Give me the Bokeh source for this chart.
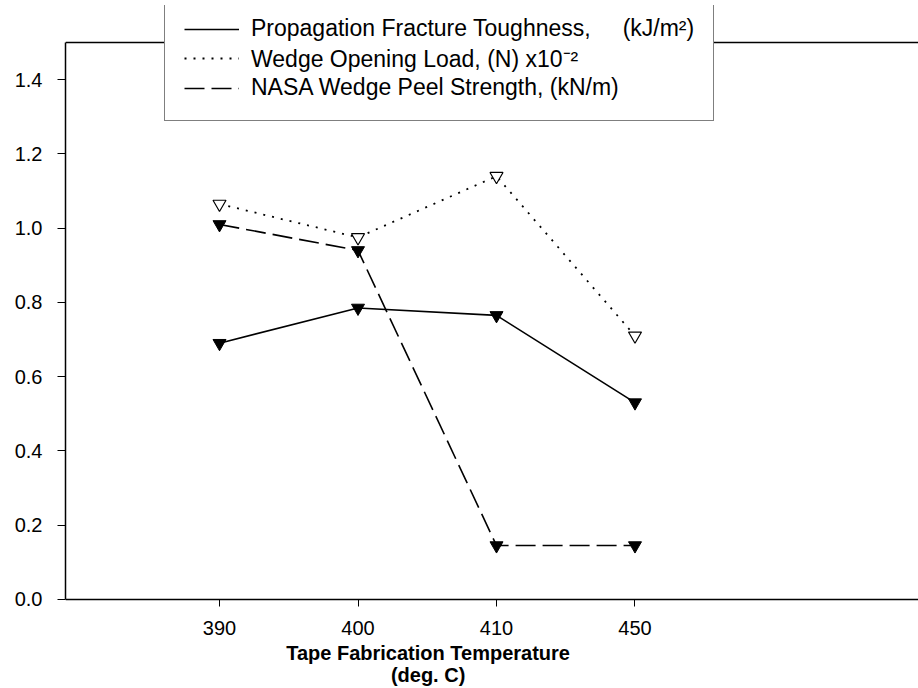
from bokeh.plotting import figure
from bokeh.models import (Range1d, FixedTicker, Legend, LegendItem, Span)
from bokeh.embed import file_html
from bokeh.resources import INLINE

# ---- data ----
categories = ["390", "400", "410", "450"]
propagation_toughness = [0.69, 0.785, 0.765, 0.53]      # kJ/m^2
wedge_opening_load = [1.065, 0.975, 1.14, 0.71]         # N x10^-2
nasa_peel_strength = [1.01, 0.94, 0.145, 0.145]         # kN/m
y_ticks = [0.0, 0.2, 0.4, 0.6, 0.8, 1.0, 1.2, 1.4]
x_title_1 = "Tape Fabrication Temperature"
x_title_2 = "(deg. C)"
legend_labels = ["Propagation Fracture Toughness,     (kJ/m\u00b2)",
                 "Wedge Opening Load, (N) x10\u207b\u00b2",
                 "NASA Wedge Peel Strength, (kN/m)"]

xs = list(range(len(categories)))
FONT = "Liberation Sans"

p = figure(width=918, height=688, output_backend="svg", toolbar_location=None,
           x_range=Range1d(-1.112, 5.047), y_range=Range1d(-0.2401, 1.5998),
           min_border_left=65, min_border_right=0, min_border_top=5,
           min_border_bottom=0)
p.outline_line_color = None
p.grid.visible = False
p.background_fill_color = "white"

# axes
for ax in (p.xaxis[0], p.yaxis[0]):
    ax.axis_line_color = "black"
    ax.axis_line_width = 1.5
    ax.major_tick_line_color = "black"
    ax.major_tick_line_width = 1
    ax.major_tick_in = 0
    ax.minor_tick_line_color = None
    ax.major_label_text_font = FONT
    ax.major_label_text_color = "black"
    ax.major_label_text_font_size = "20px"

p.xaxis.fixed_location = 0
p.xaxis.ticker = FixedTicker(ticks=xs)
p.xaxis.major_label_overrides = {i: c for i, c in enumerate(categories)}
p.xaxis.major_tick_out = 7
p.xaxis.major_label_standoff = 15

pad = "\u00a0" * 23
p.xaxis.axis_label = x_title_1 + pad + "\n" + x_title_2 + pad
p.xaxis.axis_label_text_font = FONT
p.xaxis.axis_label_text_font_size = "20px"
p.xaxis.axis_label_text_font_style = "bold"
p.xaxis.axis_label_text_color = "black"
p.xaxis.axis_label_text_align = "center"
p.xaxis.axis_label_text_line_height = 1.0
p.xaxis.axis_label_standoff = 3

p.yaxis.ticker = FixedTicker(ticks=y_ticks)
p.yaxis.major_label_overrides = {t: f"{t:.1f}" for t in y_ticks}
p.yaxis.major_tick_out = 8
p.yaxis.major_label_standoff = 15
p.yaxis.bounds = (0, 1.5)

# top border line of the plot area
p.add_layout(Span(location=1.5, dimension="width", line_color="black", line_width=1.5))

# series
r1 = p.line(xs, propagation_toughness, line_color="black", line_width=1.6)
p.scatter(xs, propagation_toughness, marker="inverted_triangle", size=13,
          fill_color="black", line_color="black")
r2 = p.line(xs, wedge_opening_load, line_color="black", line_width=1.8, line_dash="2 7")
p.scatter(xs, wedge_opening_load, marker="inverted_triangle", size=13,
          fill_color="white", line_color="black", line_width=1.2)
r3 = p.line(xs, nasa_peel_strength, line_color="black", line_width=1.6, line_dash="20 7")
p.scatter(xs, nasa_peel_strength, marker="inverted_triangle", size=13,
          fill_color="black", line_color="black")

legend = Legend(items=[LegendItem(label=legend_labels[0], renderers=[r1]),
                       LegendItem(label=legend_labels[1], renderers=[r2]),
                       LegendItem(label=legend_labels[2], renderers=[r3])],
                location=(99, 567), orientation="vertical",
                label_text_font=FONT, label_text_font_size="23px",
                label_text_color="black", glyph_width=55, glyph_height=24,
                label_height=24, label_standoff=12, padding=19, spacing=0,
                margin=0, border_line_color="black", border_line_width=1.2,
                background_fill_color="white", background_fill_alpha=1.0)
p.add_layout(legend)

open("out.html", "w").write(file_html(p, INLINE))
